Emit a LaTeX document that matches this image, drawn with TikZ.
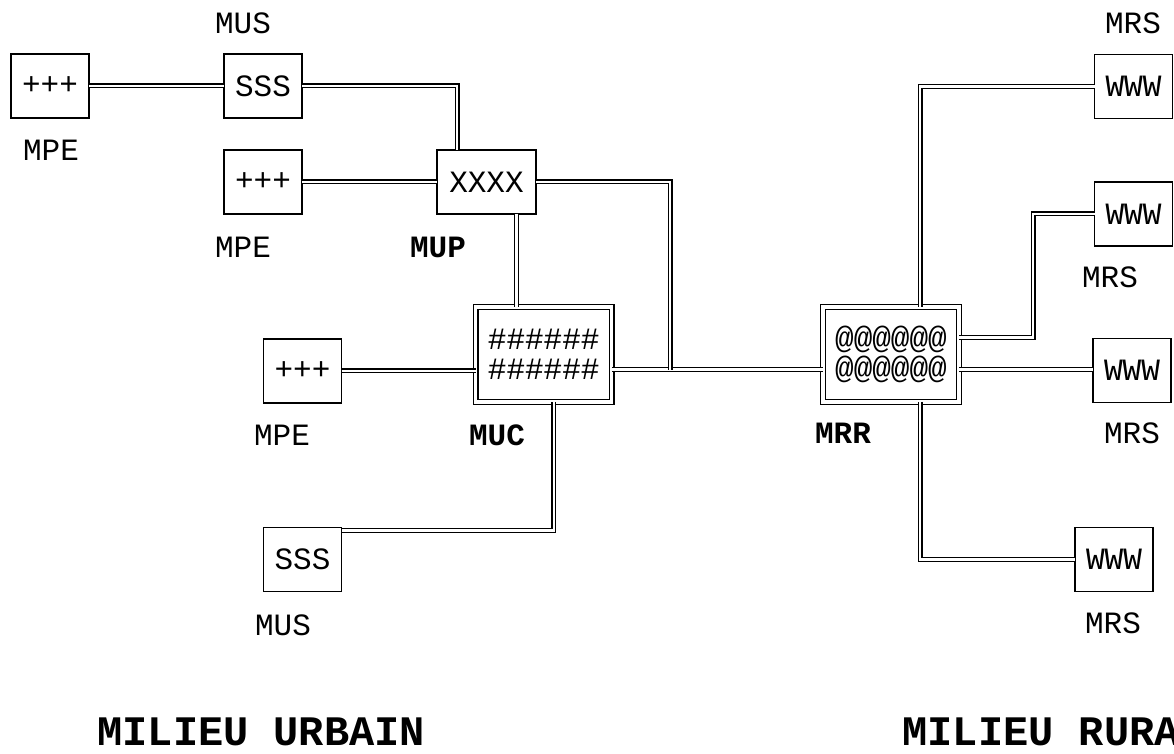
\documentclass[tikz,border=0pt]{standalone}
\usepackage{fontspec}
\setmonofont{Liberation Mono}
\usetikzlibrary{positioning,calc}

\begin{document}
\begin{tikzpicture}[x=.5pt,y=-.5pt,
  font=\ttfamily\fontsize{15.5}{15}\selectfont,
  box/.style={draw,line width=.8pt,minimum width=39pt,minimum height=32pt,inner sep=0pt,outer sep=0pt},
  hub/.style={draw,double,double distance=1.6pt,line width=.7pt,minimum width=68pt,minimum height=47.5pt,align=center,inner sep=0pt,outer sep=0pt},
  link/.style={double,double distance=1.1pt,line width=.7pt},
  lab/.style={inner sep=0pt},
  boldlab/.style={inner sep=0pt,font=\ttfamily\bfseries\fontsize{15.5}{15}\selectfont},
  zone/.style={inner sep=0pt,anchor=west,font=\ttfamily\bfseries\fontsize{21}{24}\selectfont}]
\useasboundingbox (0,0) rectangle (1174,754);
% milieu urbain
\node[box] (mpeA) at (50,86) {+++};
\node[box] (musA) at (263,86) {SSS};
\node[box] (mpeB) at (263,182) {+++};
\node[box,minimum width=49.5pt] (mup) at (486.5,182) {XXXX};
\node[box] (mpeC) at (302.5,371) {+++};
\node[hub] (muc) at (543.75,354.5) {\#\#\#\#\#\#\\\#\#\#\#\#\#};
\node[box] (musB) at (302.5,559.5) {SSS};
% milieu rural
\node[hub] (mrr) at (891,354.5) {@@@@@@\\@@@@@@};
\node[box] (mrsA) at (1133.5,86.5) {WWW};
\node[box] (mrsB) at (1133.5,214) {WWW};
\node[box] (mrsC) at (1132,370.5) {WWW};
\node[box] (mrsD) at (1114,559.5) {WWW};
% labels
\foreach \x/\y/\name in {51/150/MPE,243/23/MUS,243/247/MPE,282/435/MPE,283/625/MUS,1133/23/MRS,1110/277/MRS,1132/433/MRS,1113/623/MRS}
  \node[lab] (lab\x) at (\x,\y) {\name};
\foreach \x/\y/\name in {438/247/MUP,497/435/MUC,843/433/MRR}
  \node[boldlab] (lab\x) at (\x,\y) {\name};
\node[zone] (urbain) at (97,732) {MILIEU URBAIN};
\node[zone] (rural) at (902,732) {MILIEU RURA};
% liaisons
\coordinate (jn) at (670,370);
\coordinate (mupS) at ([xshift=15pt]mup.south);
\draw[link] (mpeA) -- (musA);
\draw[link] (musA.east) -| ([xshift=10pt]mup.north west);
\draw[link] (mpeB) -- (mup);
\draw[link] (mupS) -- (mupS |- muc.north);
\draw[link] (mpeC.east) -- (mpeC.east -| muc.west);
\draw[link] ([yshift=-7.5pt]muc.east) -- ([yshift=-7.5pt]mrr.west);
\draw[link] (mup.east) -| (jn);
\draw[link] ([xshift=5pt]muc.south) |- ([yshift=-1.5pt]musB.north east);
\draw[link] ([xshift=14.5pt]mrr.north) |- (mrsA.west);
\draw[link] ([yshift=8.5pt]mrr.east) -- ++(74,0) |- (mrsB.west);
\draw[link] ([yshift=-7.5pt]mrr.east) -- ([yshift=-7.5pt]mrr.east -| mrsC.west);
\draw[link] ([xshift=14.5pt]mrr.south) |- (mrsD.west);
\end{tikzpicture}
\end{document}
